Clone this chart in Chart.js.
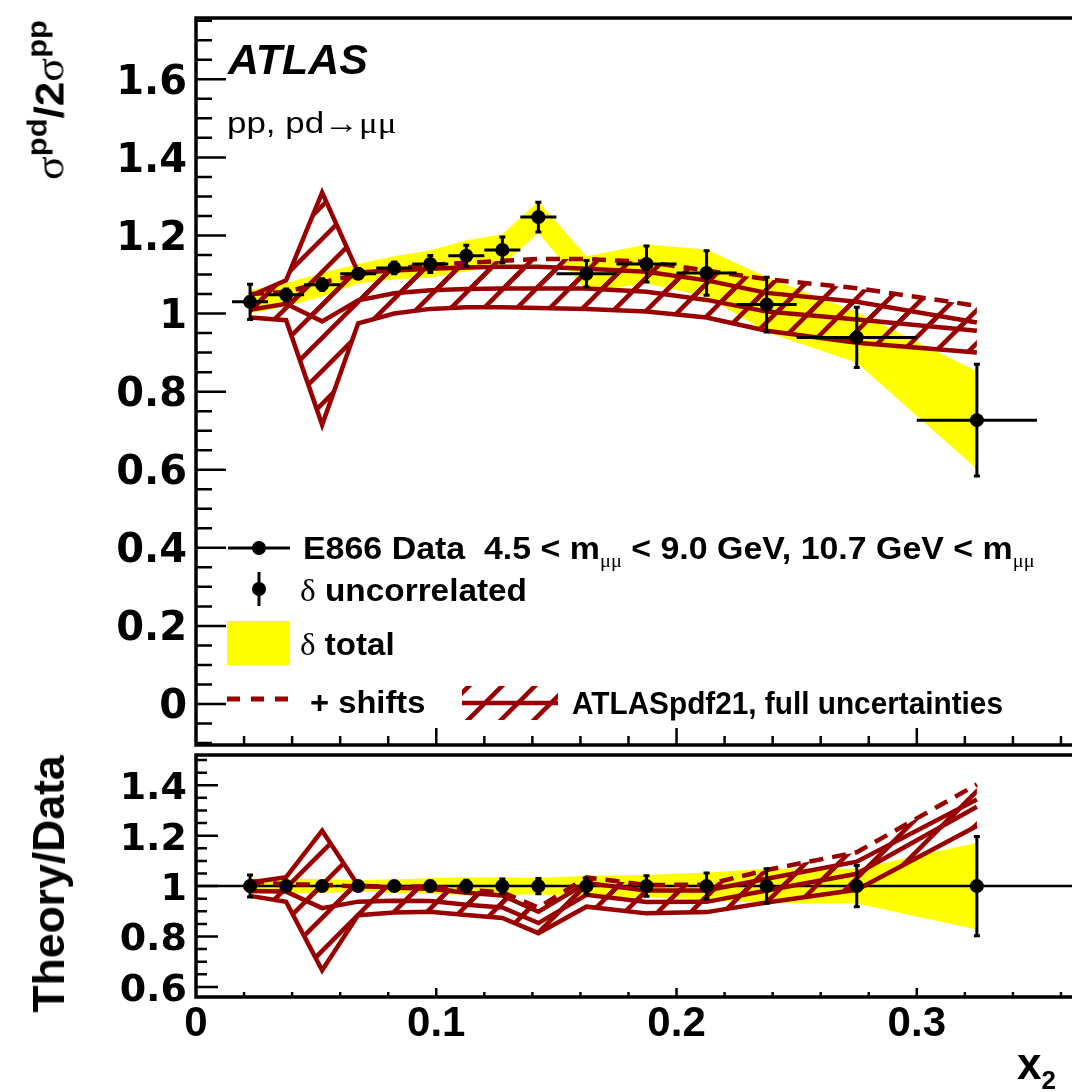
<!DOCTYPE html>
<html lang="en">
<head>
<meta charset="UTF-8">
<title>sigma pd / 2 sigma pp - E866 vs ATLASpdf21</title>
<script src="https://cdn.jsdelivr.net/npm/chart.js@4.4.1/dist/chart.umd.min.js"></script>
<style>
  html, body { margin: 0; padding: 0; background: #fff; }
  #page { position: relative; width: 1072px; height: 1092px; overflow: hidden;
          font-family: "Liberation Sans", Arial, sans-serif; }
  canvas { position: absolute; left: 0; }
  .txt { position: absolute; white-space: nowrap; line-height: 1; color: #000; transform-origin: left center; }
  .b { font-weight: bold; }
  .greek { font-family: "Liberation Serif", serif; font-weight: normal; }
  .sub { font-size: 0.6em; position: relative; top: 0.45em; }
</style>
</head>
<body>
<div id="page">
  <canvas id="topChart" width="1100" height="752" style="top:0"></canvas>
  <canvas id="ratioChart" width="1100" height="347" style="top:745px"></canvas>

  <!-- axis titles -->
  <div class="txt b" id="yTitleTop" style="left:50px;top:100px;font-size:40px">
    <span class="greek">&sigma;</span><span style="font-size:28px;position:relative;top:-17px">pd</span>/2<span class="greek">&sigma;</span><span style="font-size:28px;position:relative;top:-17px">pp</span>
  </div>
  <div class="txt b" id="yTitleRatio" style="left:49px;top:884px;font-size:44px">Theory/Data</div>
  <div class="txt b" style="left:1017px;top:1064px;font-size:44px;transform:translateY(-50%)">x<span style="font-size:26px;position:relative;top:10px">2</span></div>

  <!-- labels -->
  <div class="txt b fit" data-w="140" style="left:228px;top:60px;font-size:42px;font-style:italic">ATLAS</div>
  <div class="txt fit" data-w="170" style="left:227px;top:123px;font-size:30px">pp, pd&rarr;<span class="greek">&mu;&mu;</span></div>

  <!-- legend text -->
  <div class="txt b fit" data-w="732" style="left:303px;top:548px;font-size:31px">E866 Data&nbsp;&nbsp;4.5 &lt; m<span class="sub greek">&mu;&mu;</span> &lt; 9.0 GeV, 10.7 GeV &lt; m<span class="sub greek">&mu;&mu;</span></div>
  <div class="txt b fit" data-w="227" style="left:300px;top:590px;font-size:31px"><span class="greek">&delta;</span> uncorrelated</div>
  <div class="txt b fit" data-w="95" style="left:300px;top:644px;font-size:31px"><span class="greek">&delta;</span> total</div>
  <div class="txt b fit" data-w="115" style="left:310px;top:702px;font-size:31px">+ shifts</div>
  <div class="txt b fit" data-w="431" style="left:572px;top:703px;font-size:31px">ATLASpdf21, full uncertainties</div>
</div>

<script>
// x2 bin centres and half widths
const xVals = [0.0225, 0.0375, 0.0525, 0.0675, 0.0825, 0.0975, 0.1125, 0.1275,
               0.1425, 0.1625, 0.1875, 0.2125, 0.2375, 0.275, 0.325];
const xErr = [0.0075, 0.0075, 0.0075, 0.0075, 0.0075, 0.0075, 0.0075, 0.0075,
              0.0075, 0.0125, 0.0125, 0.0125, 0.0125, 0.025, 0.025];

// E866 sigma(pd)/2sigma(pp)
const dataRatio = [1.03, 1.048, 1.074, 1.102, 1.117, 1.127, 1.148, 1.163,
                   1.247, 1.102, 1.127, 1.104, 1.023, 0.939, 0.727];
const errUncorr = [0.045, 0.015, 0.015, 0.012, 0.015, 0.022, 0.027, 0.033,
                   0.038, 0.034, 0.046, 0.057, 0.07, 0.077, 0.143];
const errTotal = [0.03, 0.03, 0.03, 0.025, 0.03, 0.035, 0.04, 0.04,
                  0.04, 0.045, 0.05, 0.06, 0.07, 0.065, 0.125];

// ATLASpdf21 prediction, band edges (with and without shifts)
const theoryUp = [1.045, 1.085, 1.31, 1.105, 1.11, 1.115, 1.118, 1.12,
                  1.12, 1.115, 1.107, 1.085, 1.053, 1.03, 0.977];
const theoryLo = [0.99, 0.983, 0.715, 0.975, 1.0, 1.012, 1.016, 1.016,
                  1.014, 1.012, 1.005, 0.99, 0.956, 0.925, 0.90];
const shiftUp = [1.05, 1.055, 1.08, 1.10, 1.115, 1.125, 1.13, 1.135,
                 1.14, 1.14, 1.132, 1.11, 1.088, 1.065, 1.02];
const shiftLo = [1.01, 1.025, 0.98, 1.034, 1.052, 1.06, 1.063, 1.064,
                 1.064, 1.064, 1.056, 1.035, 1.005, 0.985, 0.956];

// tick labels
const topYTicks = [0, 0.2, 0.4, 0.6, 0.8, 1, 1.2, 1.4, 1.6];
const topYLabels = ['0', '0.2', '0.4', '0.6', '0.8', '1', '1.2', '1.4', '1.6'];
const ratioYTicks = [0.6, 0.8, 1, 1.2, 1.4];
const ratioYLabels = ['0.6', '0.8', '1', '1.2', '1.4'];
const xTicks = [0, 0.1, 0.2, 0.3];
const xLabels = ['0', '0.1', '0.2', '0.3'];

const RED = '#990000';
const YELLOW = '#ffff00';
const X_MAX = 0.37;
const LW = 4.5;

function hatch() {
    const s = 33;
    const c = document.createElement('canvas');
    c.width = s; c.height = s;
    const g = c.getContext('2d');
    g.strokeStyle = RED;
    g.lineWidth = 4.5;
    for (const k of [-s, 0, s]) {
        g.beginPath();
        g.moveTo(k - 2, s + 2);
        g.lineTo(k + s + 2, -2);
        g.stroke();
    }
    return g.createPattern(c, 'repeat');
}
const pattern = hatch();

const pts = (ys) => xVals.map((x, i) => ({ x: x, y: ys[i] }));

// frame with ROOT-style inward ticks
const frame = {
    id: 'frame',
    afterDraw(chart, args, o) {
        const { ctx, chartArea: a, scales: { x, y } } = chart;
        ctx.save();
        ctx.strokeStyle = '#000';
        ctx.lineWidth = 3.5;
        ctx.beginPath();
        ctx.moveTo(a.right + 10, a.top); ctx.lineTo(a.left, a.top);
        ctx.lineTo(a.left, a.bottom); ctx.lineTo(a.right + 10, a.bottom);
        ctx.stroke();
        ctx.lineWidth = 2.5;
        ctx.beginPath();
        for (let i = Math.ceil(y.min / 0.05); i * 0.05 <= y.max; i++) {
            const major = i % 4 === 0;
            const py = y.getPixelForValue(i * 0.05);
            ctx.moveTo(a.left, py);
            ctx.lineTo(a.left + (major ? o.yMajor : o.yMinor), py);
        }
        for (let i = 1; i * 0.02 <= X_MAX; i++) {
            const major = i % 5 === 0;
            const px = x.getPixelForValue(i * 0.02);
            ctx.moveTo(px, a.bottom);
            ctx.lineTo(px, a.bottom - (major ? o.xMajor : o.xMinor));
        }
        ctx.stroke();
        ctx.restore();
    }
};

// error bars for datasets carrying errY / errX
const errorBars = {
    id: 'errorBars',
    beforeDatasetDraw(chart, args) {
        const ds = chart.data.datasets[args.index];
        if (!ds.errY) return;
        const { ctx, scales: { x, y } } = chart;
        ctx.save();
        ctx.strokeStyle = '#000';
        ctx.lineWidth = 3;
        ds.data.forEach((p, i) => {
            const px = x.getPixelForValue(p.x);
            const py = y.getPixelForValue(p.y);
            const y1 = y.getPixelForValue(p.y - ds.errY[i]);
            const y2 = y.getPixelForValue(p.y + ds.errY[i]);
            ctx.beginPath();
            ctx.moveTo(px, y1); ctx.lineTo(px, y2);
            ctx.moveTo(px - 3, y1); ctx.lineTo(px + 3, y1);
            ctx.moveTo(px - 3, y2); ctx.lineTo(px + 3, y2);
            if (ds.errX) {
                ctx.moveTo(x.getPixelForValue(p.x - ds.errX[i]), py);
                ctx.lineTo(x.getPixelForValue(p.x + ds.errX[i]), py);
            }
            ctx.stroke();
        });
        ctx.restore();
    }
};

// legend symbols (text is in html)
const legendMarks = {
    id: 'legendMarks',
    afterDraw(chart) {
        const ctx = chart.ctx;
        ctx.save();
        ctx.fillStyle = '#000';
        ctx.strokeStyle = '#000';
        ctx.lineWidth = 3;
        ctx.beginPath();
        ctx.moveTo(228, 548); ctx.lineTo(290, 548);
        ctx.moveTo(259, 572); ctx.lineTo(259, 606);
        ctx.stroke();
        ctx.beginPath(); ctx.arc(259, 548, 7, 0, Math.PI * 2); ctx.fill();
        ctx.beginPath(); ctx.arc(259, 589, 7, 0, Math.PI * 2); ctx.fill();
        ctx.fillStyle = YELLOW;
        ctx.fillRect(227, 621, 63, 44);
        ctx.strokeStyle = RED;
        ctx.lineWidth = 5;
        ctx.setLineDash([13, 11]);
        ctx.beginPath(); ctx.moveTo(227, 699); ctx.lineTo(292, 699); ctx.stroke();
        ctx.setLineDash([]);
        ctx.fillStyle = pattern;
        ctx.fillRect(462, 686, 96, 34);
        ctx.lineWidth = LW;
        ctx.beginPath(); ctx.moveTo(462, 703); ctx.lineTo(558, 703); ctx.stroke();
        ctx.restore();
    }
};

// datasets: yellow total band, two hatched theory bands, points on top
function bandSets(up, lo, totUp, totLo, unc, yCentre, withXerr) {
    const line = { type: 'line', pointRadius: 0, tension: 0 };
    return [
        { ...line, data: pts(totUp), borderWidth: 0, backgroundColor: YELLOW, fill: '+1' },
        { ...line, data: pts(totLo), borderWidth: 0, fill: false },
        { ...line, data: pts(up.t), borderColor: RED, borderWidth: LW, backgroundColor: pattern, fill: '+1' },
        { ...line, data: pts(lo.t), borderColor: RED, borderWidth: LW, fill: false },
        { ...line, data: pts(up.s), borderColor: RED, borderWidth: LW, borderDash: [14, 9], backgroundColor: pattern, fill: '+1' },
        { ...line, data: pts(lo.s), borderColor: RED, borderWidth: LW, fill: false },
        { ...line, data: pts(yCentre), showLine: false, pointRadius: 7, pointBackgroundColor: '#000',
          pointBorderWidth: 0, errY: unc, errX: withXerr ? xErr : null }
    ];
}

function scalesFor(yMin, yMax, yTicks, yLabels, ySize, showX) {
    const noPad = s => { s.paddingTop = 0; s.paddingBottom = 0; s.paddingLeft = 0; s.paddingRight = 0; };
    return {
        x: {
            type: 'linear', min: 0, max: X_MAX,
            grid: { display: false, drawTicks: false }, border: { display: false },
            afterBuildTicks: s => { s.ticks = xTicks.map(v => ({ value: v })); },
            afterFit: s => { s.height = showX ? 95 : 0; noPad(s); },
            ticks: { display: showX, autoSkip: false, maxRotation: 0, padding: 2, color: '#000',
                     font: { family: 'Liberation Sans', weight: 'bold', size: 42 },
                     callback: v => xLabels[xTicks.indexOf(v)] }
        },
        y: {
            type: 'linear', min: yMin, max: yMax,
            grid: { display: false, drawTicks: false }, border: { display: false },
            afterBuildTicks: s => { s.ticks = yTicks.map(v => ({ value: v })); },
            afterFit: s => { s.width = 196; noPad(s); },
            ticks: { padding: 9, labelOffset: 4, color: '#000',
                     font: { family: 'DejaVu Sans', weight: 'bold', size: ySize },
                     callback: v => yLabels[yTicks.indexOf(v)] }
        }
    };
}

const common = {
    responsive: false, animation: false, events: [],
    plugins: { legend: { display: false }, tooltip: { enabled: false } }
};

// later datasets are drawn on top
const stackOrder = sets => { sets.forEach((d, i) => { d.order = 100 - i; }); return sets; };

// top panel
new Chart(document.getElementById('topChart'), {
    type: 'line',
    data: {
        datasets: stackOrder(bandSets(
            { t: theoryUp, s: shiftUp }, { t: theoryLo, s: shiftLo },
            dataRatio.map((v, i) => v + errTotal[i]),
            dataRatio.map((v, i) => v - errTotal[i]),
            errUncorr, dataRatio, true))
    },
    options: {
        ...common,
        layout: { padding: { left: 0, top: 18, right: 15, bottom: 3 } },
        scales: scalesFor(-0.105, 1.757, topYTicks, topYLabels, 40, false),
        plugins: { ...common.plugins, frame: { yMajor: 30, yMinor: 16, xMajor: 17, xMinor: 9 } }
    },
    plugins: [frame, errorBars, legendMarks]
});

// ratio panel: everything divided by the data
const div = (arr) => arr.map((v, i) => v / dataRatio[i]);
const ones = dataRatio.map(() => 1);
const ratioSets = bandSets(
    { t: div(theoryUp), s: div(shiftUp) }, { t: div(theoryLo), s: div(shiftLo) },
    dataRatio.map((v, i) => 1 + errTotal[i] / v),
    dataRatio.map((v, i) => 1 - errTotal[i] / v),
    div(errUncorr), ones, false);
ratioSets.splice(2, 0, {
    type: 'line', data: [{ x: 0, y: 1 }, { x: X_MAX, y: 1 }], borderColor: '#000',
    borderWidth: 2.5, pointRadius: 0, fill: false
});

new Chart(document.getElementById('ratioChart'), {
    type: 'line',
    data: { datasets: stackOrder(ratioSets) },
    options: {
        ...common,
        layout: { padding: { left: 0, top: 10, right: 15, bottom: 0 } },
        scales: scalesFor(0.56, 1.52, ratioYTicks, ratioYLabels, 38, true),
        plugins: { ...common.plugins, frame: { yMajor: 22, yMinor: 11, xMajor: 9, xMinor: 5 } }
    },
    plugins: [frame, errorBars]
});

// squeeze text to the widths in the original, rotate axis titles
document.querySelectorAll('.fit').forEach(el => {
    const k = Math.min(1.2, Math.max(0.8, el.dataset.w / el.offsetWidth));
    el.style.transform = 'translateY(-50%) scaleX(' + k + ')';
});
for (const [id, len] of [['yTitleTop', 160], ['yTitleRatio', 257]]) {
    const el = document.getElementById(id);
    const k = len / el.offsetWidth;
    el.style.transformOrigin = 'center center';
    el.style.transform = 'translate(-50%, -50%) rotate(-90deg) scaleX(' + k + ')';
}
</script>
</body>
</html>
